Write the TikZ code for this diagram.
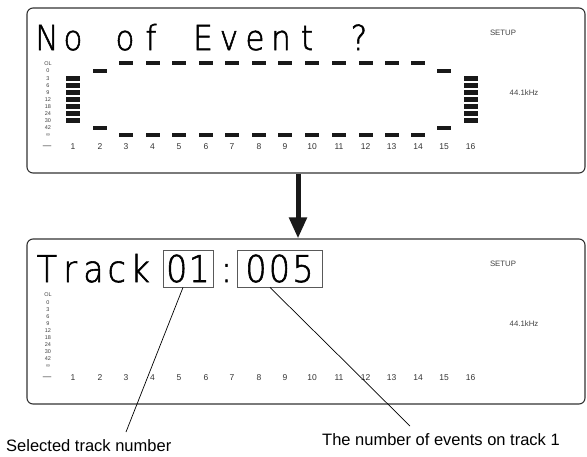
\documentclass[tikz,border=0pt]{standalone}
\usepackage{fontspec}
\setmainfont{Liberation Sans}
\newfontfamily\lcdfont{DejaVu Sans ExtraLight}[FakeStretch=0.9,FakeBold=1.5]
\usetikzlibrary{arrows.meta,calc}
\ExplSyntaxOn
\NewDocumentCommand\lcdcells{mm}{\tl_map_inline:nn {#2} {\makebox[#1]{##1}}}
\ExplSyntaxOff
\begin{document}
\begin{tikzpicture}[x=1pt,y=-1pt,
  panel/.style={draw=black!80, line width=1.1pt, rounded corners=6pt,
    minimum width=558pt, minimum height=165pt, inner sep=0pt},
  lcdtop/.style={font=\lcdfont\fontsize{34.5}{34.5}\selectfont, inner sep=0pt, anchor=base, text=black},
  lcdbot/.style={font=\lcdfont\fontsize{37}{37}\selectfont, inner sep=0pt, anchor=base, text=black},
  valbox/.style={lcdbot, anchor=center, draw=black!65, line width=0.9pt, text height=32pt, text depth=5pt, inner xsep=0pt},
  scalelbl/.style={font=\fontsize{5.5}{5.5}\selectfont, text=black!75, inner sep=0pt},
  chnum/.style={font=\fontsize{8.5}{8.5}\selectfont, text=black!80, inner sep=0pt},
  infolbl/.style={font=\fontsize{7.8}{7.8}\selectfont, text=black!75, inner sep=0pt},
  calloutlbl/.style={font=\fontsize{16.5}{16.5}\selectfont, text=black, inner sep=0pt, anchor=base west},
  meterbar/.style={fill=black!90, draw=none},
  callout/.style={draw=black, line width=0.7pt},
  bigarrow/.style={draw=black!90, line width=5pt, -{Triangle[length=21pt,width=17pt]}}
]
\useasboundingbox (0,0) rectangle (587,456);

% panels
\node[panel] (top) at (306,90.5) {};
\node[panel] (bot) at (306,321.5) {};

% arrow between panels
\coordinate (ax) at (298,0);
\draw[bigarrow] (top.south -| ax) -- (bot.north -| ax);

% common panel contents
\foreach \p/\dy in {t/0,b/231} {
  \node[infolbl] (\p-setup) at (503,33+\dy) {SETUP};
  \node[infolbl] (\p-khz) at (524,93+\dy) {44.1kHz};
  \foreach \t [count=\i from 0] in {OL,0,3,6,9,12,18,24,30,42,∞} {
    \node[scalelbl] (\p-sl-\i) at (48,64+7.1*\i+\dy) {\t};
  }
  \node[chnum] (\p-dash) at (47,147+\dy) {—};
  \foreach \x [count=\c] in {73,100,126,152.5,179,206,232,259,285,312,339,365.5,391.5,418,444,470.5} {
    \node[chnum] (\p-ch-\c) at (\x,147+\dy) {\c};
  }
}

% meter bars (top panel)
\foreach \x [count=\c from 3] in {126,152.5,179,206,232,259,285,312,339,365.5,391.5,418} {
  \fill[meterbar] (\x-7,63-2.4) rectangle (\x+7,63+2.4);
  \fill[meterbar] (\x-7,135-2.4) rectangle (\x+7,135+2.4);
}
\foreach \x in {100,444} {
  \fill[meterbar] (\x-7,71-2.4) rectangle (\x+7,71+2.4);
  \fill[meterbar] (\x-7,128-2.4) rectangle (\x+7,128+2.4);
}
\foreach \x in {73,470.5} {
  \foreach \r in {2,...,8} {
    \fill[meterbar] (\x-7,64+7.1*\r-2.4) rectangle (\x+7,64+7.1*\r+2.4);
  }
}

% top display text
\node[lcdtop] (no) at (60,50) {\lcdcells{26pt}{No}};
\node[lcdtop] (of) at (138,50) {\lcdcells{26pt}{of}};
\node[lcdtop] (event) at (255,50) {\lcdcells{26pt}{Event}};
\node[lcdtop] (qm) at (359,50) {\lcdcells{26pt}{?}};

% bottom display text
\node[lcdbot] (track) at (93.5,282) {\lcdcells{23.3pt}{Track}};
\node[valbox, minimum width=50pt] (box1) at (188,268.5) {\lcdcells{22.5pt}{01}};
\node[lcdbot] (colon) at (226.5,282) {:};
\node[valbox, minimum width=85pt] (box2) at (279.5,268.5) {\lcdcells{23.5pt}{005}};

% callouts
\node[calloutlbl] (sel) at (6,451) {Selected track number};
\node[calloutlbl] (num) at (322,445) {The number of events on track 1};
\coordinate (e1) at (126,432);
\coordinate (e2) at (410,426);
\draw[callout] ($(box1.south)+(-5,0)$) -- (e1);
\draw[callout] ($(box2.south)+(-9.5,0)$) -- (e2);
\end{tikzpicture}
\end{document}
